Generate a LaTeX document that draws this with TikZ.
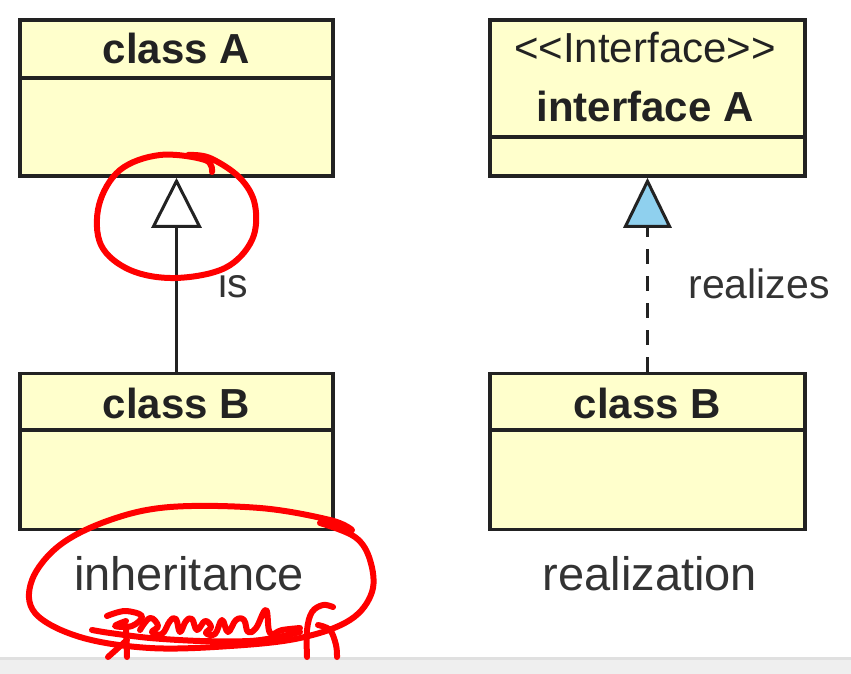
\documentclass[tikz,border=0pt]{standalone}
\usepackage{fontspec}
\setmainfont{Liberation Sans}
\usetikzlibrary{arrows.meta,positioning,calc}
\definecolor{classfill}{HTML}{FFFFCC}
\definecolor{classline}{HTML}{222222}
\definecolor{labelgray}{HTML}{333333}
\definecolor{realizeblue}{HTML}{8FD0EE}
\definecolor{penred}{HTML}{FF0000}
\definecolor{barfill}{HTML}{EFEFEF}
\definecolor{barline}{HTML}{E0E0E0}

\tikzset{
    classbox/.style={draw=classline, fill=classfill, line width=3.5pt, minimum width=313pt, minimum height=156pt, inner sep=0pt},
    titletext/.style={font=\fontsize{42}{48}\selectfont\bfseries, text=classline, anchor=base},
    stereotext/.style={font=\fontsize{42}{48}\selectfont, text=classline, anchor=base},
    edgetext/.style={font=\fontsize{41}{48}\selectfont, text=labelgray, anchor=base west},
    captiontext/.style={font=\fontsize{47}{54}\selectfont, text=labelgray, anchor=base},
    inherits/.style={line width=3pt, draw=classline, -{Triangle[open, length=50pt, width=50pt, fill=white]}},
    realizes/.style={line width=3pt, draw=classline, dash pattern=on 15pt off 12pt, -{Triangle[length=50pt, width=48pt, fill=realizeblue]}},
    pen/.style={draw=penred, line width=6pt, line cap=round, line join=round}
}

\begin{document}
\begin{tikzpicture}[x=1pt, y=-1pt]
    \useasboundingbox (0,0) rectangle (851,674);

    % Window bar at the bottom
    \fill[barfill] (0,657) rectangle (851,674);
    \fill[barline] (0,657) rectangle (851,660);

    % Inheritance
    \node[classbox] (classA) at (176.5,98) {};
    \draw[classline, line width=3.5pt] (classA.west |- 0,78) -- (classA.east |- 0,78);
    \node[titletext] (classA-name) at (176.5,64) {class A};

    \node[classbox] (classB) at (176.5,451.5) {};
    \draw[classline, line width=3.5pt] (classB.west |- 0,430) -- (classB.east |- 0,430);
    \node[titletext] (classB-name) at (176.5,418) {class B};

    \draw[inherits] (classB.north) -- (classA.south);
    \node[edgetext] (is) at (215,297) {is};
    \node[captiontext] (inheritance) at (189,590) {inheritance};

    % Realization
    \node[classbox, minimum width=315pt] (ifaceA) at (647.5,98) {};
    \draw[classline, line width=3.5pt] (ifaceA.west |- 0,137) -- (ifaceA.east |- 0,137);
    \node[stereotext] (ifaceA-stereo) at (645,63) {<\kern0pt<Interface>\kern0pt>};
    \node[titletext] (ifaceA-name) at (645,122) {interface A};

    \node[classbox, minimum width=315pt] (classB2) at (647.5,451.5) {};
    \draw[classline, line width=3.5pt] (classB2.west |- 0,430) -- (classB2.east |- 0,430);
    \node[titletext] (classB2-name) at (647.5,418) {class B};

    \draw[realizes] (classB2.north) -- (ifaceA.south);
    \node[edgetext] (realizes) at (685,298) {realizes};
    \node[captiontext] (realization) at (650,590) {realization};

    % Red pen marks
    \draw[pen] plot[smooth, tension=0.6] coordinates {(212,172) (205,160) (160,155) (120,170) (99,205) (101,245) (130,270) (175,278) (225,268) (252,240) (255,205) (240,178) (210,158) (188,155)};
    \draw[pen] plot[smooth, tension=0.6] coordinates {(352,530) (330,520) (260,508) (170,507) (110,520) (60,545) (32,580) (35,613) (80,637) (150,648) (230,646) (300,638) (350,620) (372,592) (370,560) (355,537) (320,523)};

    % Scribbled note
    \draw[pen] plot[smooth, tension=0.5] coordinates {(92,630) (110,633) (150,638) (200,641) (250,641) (278,637) (300,632)};
    \draw[pen] plot[smooth, tension=0.6] coordinates {(107,616) (125,611) (142,616) (132,626) (115,626) (126,621)};
    \draw[pen] (126,626) -- (127,657);
    \draw[pen] (127,640) -- (108,657);
    \draw[pen] plot[smooth, tension=0.7] coordinates {(140,630) (150,618) (158,626) (152,632) (162,634) (170,621) (176,619) (180,632) (186,621) (192,619) (197,630) (205,621) (211,627) (206,633) (215,634) (222,620) (228,632) (236,620) (244,620) (248,632) (256,628) (266,610) (270,633) (282,630) (300,628)};
    \draw[pen] plot[smooth, tension=0.6] coordinates {(307,657) (307,630) (312,612) (323,605) (333,607)};
    \draw[pen] plot[smooth, tension=0.6] coordinates {(318,625) (330,630) (336,645) (337,657)};
\end{tikzpicture}
\end{document}
